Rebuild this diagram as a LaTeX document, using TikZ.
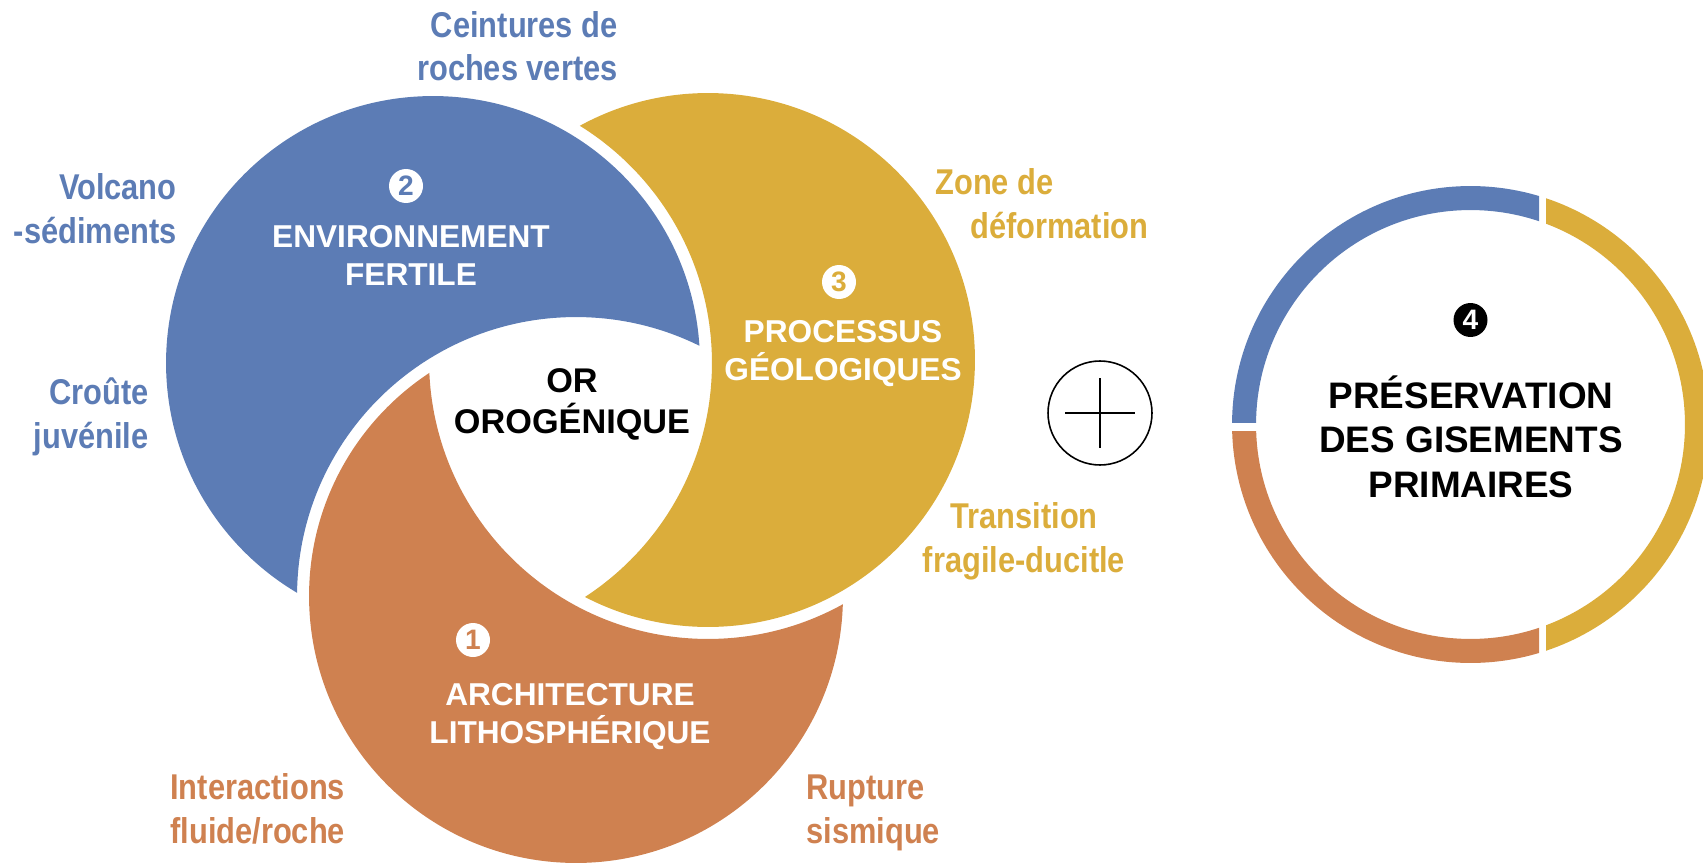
\documentclass[tikz,border=0pt]{standalone}
\usepackage{fontspec}
\setmainfont{Liberation Sans}
\newfontfamily\schmal[FakeStretch=0.86]{Liberation Sans}
\usetikzlibrary{positioning}
\definecolor{bleuEnv}{RGB}{92,124,181}
\definecolor{orangeArchi}{RGB}{207,129,80}
\definecolor{jauneProc}{RGB}{219,173,59}
% croissant: couleur, centre, centre du cercle qui coupe
\newcommand{\croissant}[3]{
    \begin{scope}[even odd rule]
    \clip (-100,-100) rectangle (1800,1000) (#3) circle (5.58cm);
    \fill[#1] (#2) circle (5.34cm);
    \end{scope}
}

\begin{document}
\begin{tikzpicture}[x=0.02cm,y=-0.02cm]
\useasboundingbox (0,0) rectangle (1703,865);
\tikzstyle{titre}=[text=white,align=center,inner sep=0pt,font=\bfseries\fontsize{18}{21.6}\selectfont]
\tikzstyle{etiquette}=[inner sep=0pt,font=\schmal\bfseries\fontsize{20.4}{25}\selectfont]
\tikzstyle{pastille}=[circle,fill=white,inner sep=0pt,minimum size=0.68cm,font=\bfseries\fontsize{16}{16}\selectfont]

\coordinate (cB) at (433,363);
\coordinate (cJ) at (708,360);
\coordinate (cO) at (576,596);
\coordinate (cP) at (1470.5,424.5);

\croissant{bleuEnv}{cB}{cO}
\croissant{orangeArchi}{cO}{cJ}
\croissant{jauneProc}{cJ}{cB}

% textes dans les croissants (base = derniere ligne)
\node[pastille,text=bleuEnv] (n2) at (406,186) {2};
\node[titre,anchor=base] (env) at (411,285) {ENVIRONNEMENT\\FERTILE};
\node[pastille,text=jauneProc] (n3) at (839,282) {3};
\node[titre,anchor=base] (proc) at (843,380) {PROCESSUS\\GÉOLOGIQUES};
\node[pastille,text=orangeArchi] (n1) at (473,640) {1};
\node[titre,anchor=base] (archi) at (570,743) {ARCHITECTURE\\LITHOSPHÉRIQUE};
\node[align=center,inner sep=0pt,anchor=base,font=\bfseries\fontsize{19.5}{23.3}\selectfont] (or) at (572,433) {OR\\OROGÉNIQUE};

% etiquettes autour
\node[etiquette,text=bleuEnv,align=right,anchor=base east] (ceintures) at (618,81) {Ceintures de\\roches vertes};
\node[etiquette,text=bleuEnv,align=right,anchor=base east] (volcano) at (177,243) {Volcano\\-sédiments};
\node[etiquette,text=bleuEnv,align=right,anchor=base east] (croute) at (149,448) {Croûte\\juvénile};
\node[etiquette,text=jauneProc,align=left,anchor=base west] (zone) at (935,238) {Zone de\\\hspace*{0.7cm}déformation};
\node[etiquette,text=jauneProc,align=center,anchor=base] (transition) at (1024,572) {Transition\\fragile-ducitle};
\node[etiquette,text=orangeArchi,align=left,anchor=base west] (interactions) at (170,843) {Interactions\\fluide/roche};
\node[etiquette,text=orangeArchi,align=left,anchor=base west] (rupture) at (806,843) {Rupture\\sismique};

% le plus
\node[circle,draw,line width=0.9pt,minimum size=2.08cm] (plus) at (1100,413) {};
\draw[line width=0.9pt] ([xshift=-0.7cm]plus.center) -- ([xshift=0.7cm]plus.center);
\draw[line width=0.9pt] ([yshift=-0.7cm]plus.center) -- ([yshift=0.7cm]plus.center);

% anneau de preservation
\begin{scope}
\clip (1200,150) rectangle (1539,422);
\fill[bleuEnv,even odd rule] (cP) circle (4.77cm) (cP) circle (4.29cm);
\end{scope}
\begin{scope}
\clip (1546,150) rectangle (1720,700);
\fill[jauneProc,even odd rule] (cP) circle (4.77cm) (cP) circle (4.29cm);
\end{scope}
\begin{scope}
\clip (1200,431) rectangle (1539,700);
\fill[orangeArchi,even odd rule] (cP) circle (4.77cm) (cP) circle (4.29cm);
\end{scope}
\node[pastille,fill=black,text=white] (n4) at (1470.5,320) {4};
\node[align=center,inner sep=0pt,anchor=base,font=\bfseries\fontsize{21}{25.3}\selectfont] (preserv) at (1471,497) {PRÉSERVATION\\DES GISEMENTS\\PRIMAIRES};
\end{tikzpicture}
\end{document}
